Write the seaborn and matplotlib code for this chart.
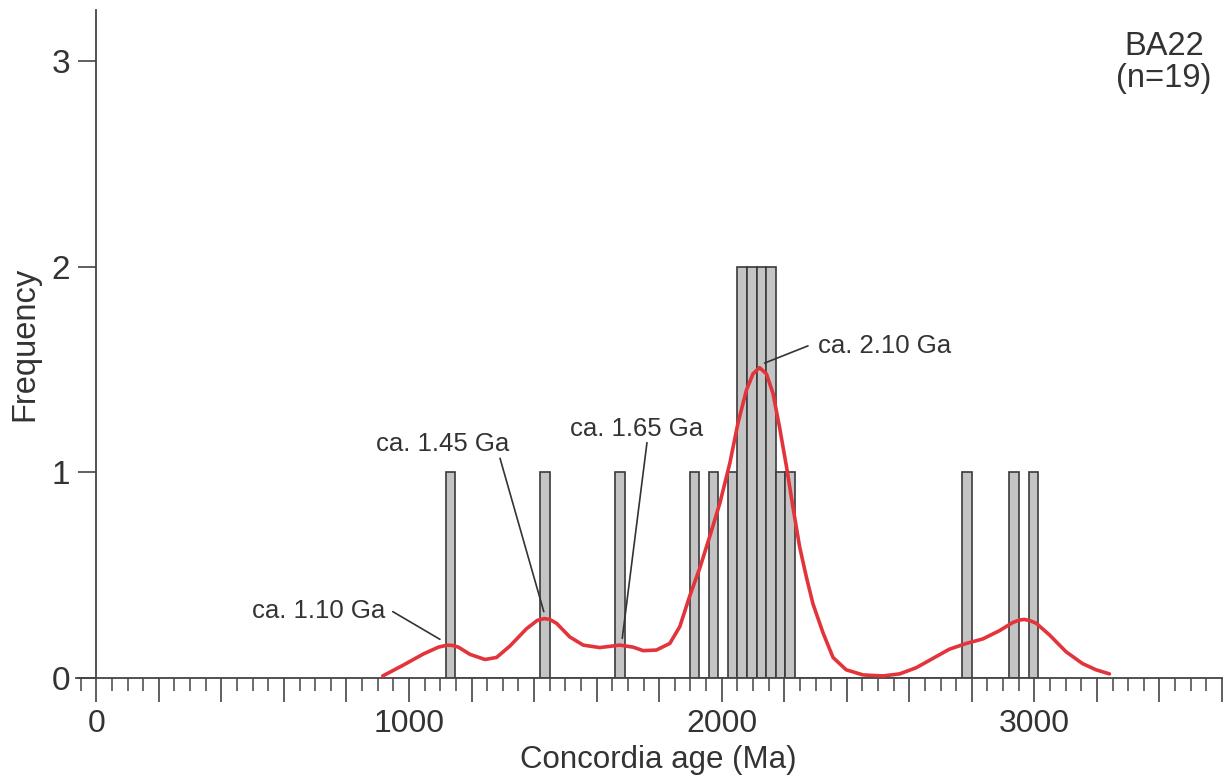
import numpy as np
import pandas as pd
import matplotlib
matplotlib.use("Agg")
import matplotlib.pyplot as plt
from matplotlib.ticker import MultipleLocator, FuncFormatter, FixedLocator
import seaborn as sns

# ---- data ----
bin_width = 30.5
bin_left = [1117, 1419, 1660, 1898.5, 1959, 2020, 2050.5, 2081, 2111.5, 2142,
            2172.5, 2203, 2770, 2920, 2982]
bin_count = [1, 1, 1, 1, 1, 1, 2, 2, 2, 2, 1, 1, 1, 1, 1]

curve_age = [916, 982, 1046, 1094, 1122, 1140, 1158, 1195, 1243, 1280, 1323, 1376,
             1410, 1432, 1450, 1472, 1514, 1557, 1610, 1674, 1717, 1749, 1791, 1834,
             1866, 1898, 1930, 1962, 1994, 2026, 2052, 2079, 2100, 2121, 2143, 2164,
             2185, 2207, 2228, 2249, 2271, 2292, 2324, 2356, 2398, 2452, 2515, 2569,
             2622, 2675, 2728, 2782, 2835, 2888, 2931, 2952, 2968, 2986, 3006, 3048,
             3101, 3154, 3197, 3240]
curve_freq = [0.01, 0.063, 0.117, 0.15, 0.16, 0.158, 0.15, 0.115, 0.09, 0.10, 0.156, 0.24,
              0.28, 0.289, 0.285, 0.266, 0.20, 0.16, 0.148, 0.16, 0.15, 0.133, 0.136, 0.168,
              0.25, 0.40, 0.535, 0.69, 0.85, 1.045, 1.24, 1.40, 1.48, 1.51, 1.48, 1.385,
              1.22, 1.03, 0.83, 0.64, 0.49, 0.36, 0.22, 0.10, 0.04, 0.015, 0.01, 0.02,
              0.05, 0.095, 0.14, 0.168, 0.19, 0.23, 0.27, 0.282, 0.285, 0.279, 0.266, 0.21,
              0.128, 0.07, 0.04, 0.02]

peak_labels = ["ca. 1.10 Ga", "ca. 1.45 Ga", "ca. 1.65 Ga", "ca. 2.10 Ga"]
label_xy = [(712, 0.292), (1107, 1.102), (1727, 1.179), (2522, 1.581)]
leader_from = [(948, 0.323), (1291, 1.069), (1761, 1.145), (2276, 1.616)]
leader_to = [(1099, 0.188), (1431, 0.323), (1682, 0.193), (2137, 1.532)]

sample_text = "BA22\n(n=19)"
x_tick_labels = [0, 1000, 2000, 3000]

# ---- styling ----
sns.set_style("white")
plt.rcParams["font.family"] = ["Liberation Sans", "DejaVu Sans"]
TXT = "#333333"
AX = "#444444"
RED = "#e3343b"

fig = plt.figure(figsize=(12.27, 7.80), dpi=100)
ax = fig.add_axes([76 / 1227, (780 - 678) / 780, (1222 - 76) / 1227, (678 - 10) / 780])

bl = np.array(bin_left, dtype=float)
edges = [float(e) for e in np.unique(np.round(np.concatenate([bl, bl + bin_width]), 3))]
hist_df = pd.DataFrame({"age": bl + bin_width / 2, "n": bin_count})
sns.histplot(data=hist_df, x="age", weights="n", bins=edges, ax=ax,
             color="#c4c4c4", edgecolor="#3a3a3a", linewidth=1.2, alpha=1, zorder=2)

curve_df = pd.DataFrame({"age": curve_age, "freq": curve_freq})
sns.lineplot(data=curve_df, x="age", y="freq", ax=ax, color=RED, linewidth=2.6,
             estimator=None, zorder=4)

for txt, (tx, ty), (x0, y0), (x1, y1) in zip(peak_labels, label_xy, leader_from, leader_to):
    ax.text(tx, ty, txt, ha="center", va="baseline", fontsize=18.5, color=TXT, zorder=5)
    ax.plot([x0, x1], [y0, y1], color="#333333", lw=1.2, zorder=5)

ax.text(3415, 2.995, sample_text, ha="center", va="center", fontsize=23.5,
        color=TXT, linespacing=1.05)

ax.set_xlim(-65, 3600)
ax.set_ylim(0, 3.25)
for s in ["top", "right"]:
    ax.spines[s].set_visible(False)
ax.spines["left"].set_position(("data", 0))
for s in ["left", "bottom"]:
    ax.spines[s].set_color(AX)
    ax.spines[s].set_linewidth(1.3)

ax.xaxis.set_major_locator(MultipleLocator(200))
ax.xaxis.set_minor_locator(MultipleLocator(50))
ax.xaxis.set_major_formatter(FuncFormatter(
    lambda v, p: f"{int(round(v))}" if int(round(v)) in x_tick_labels else ""))
ax.yaxis.set_major_locator(FixedLocator([0, 1, 2, 3]))
ax.tick_params(axis="x", which="major", direction="out", length=17, width=1.2,
               color=AX, labelsize=23, labelcolor=TXT, pad=5, bottom=True)
ax.tick_params(axis="x", which="minor", direction="out", length=9, width=1.1,
               color=AX, bottom=True)
ax.tick_params(axis="y", which="major", direction="out", length=13, width=1.2,
               color=AX, labelsize=24, labelcolor=TXT, pad=6, left=True)

ax.set_xlabel("Concordia age (Ma)", fontsize=22.5, color=TXT)
ax.set_ylabel("Frequency", fontsize=23.5, color=TXT)
ax.xaxis.set_label_coords(0.508, -0.1005)
ax.yaxis.set_label_coords(-0.031, 0.5)

fig.savefig("out.png", dpi=100)
